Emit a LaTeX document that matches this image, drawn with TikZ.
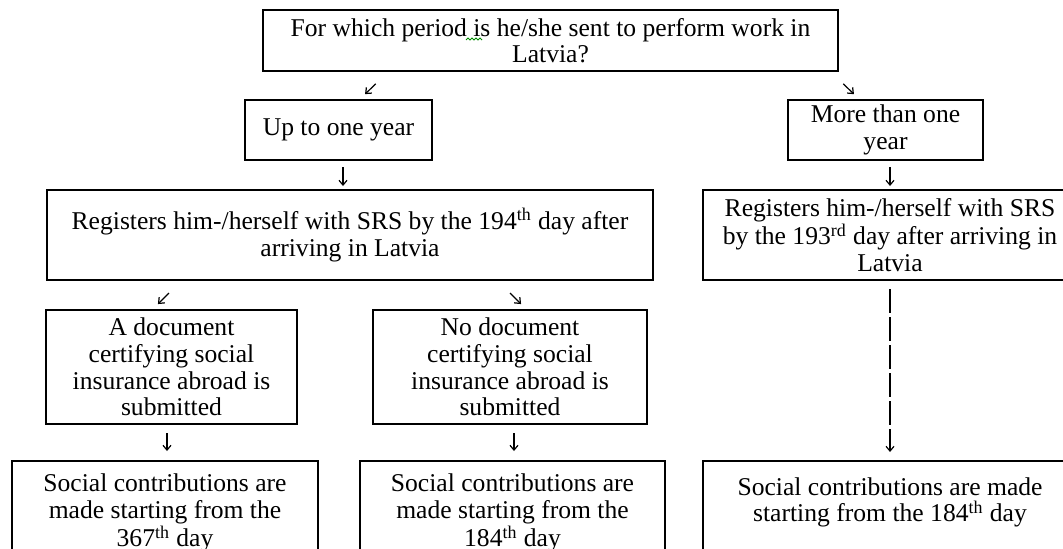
\documentclass[tikz,border=0pt]{standalone}
\usepackage{fontspec}
\setmainfont{Liberation Serif}
\usetikzlibrary{arrows.meta}
\begin{document}
\begin{tikzpicture}[x=0.5pt,y=-0.5pt,
  box/.style={draw=black, line width=0.7pt, inner sep=0pt, outer sep=0pt, align=center,
    font=\fontsize{12.8}{13.3}\selectfont},
  arr/.style={line width=0.6pt, -{Straight Barb[length=2.4pt,width=4pt]}},
  dasharr/.style={arr, dash pattern=on 12pt off 2pt},
]
\useasboundingbox (0,0) rectangle (1063,548);
\clip (0,0) rectangle (1063,548);

% boxes (centres in pixels)
\node[box, minimum width=287.5pt, minimum height=30.5pt] (top) at (550.5,40.5)
  {For which period is he/she sent to perform work in\\Latvia?};
\node[box, minimum width=93.5pt, minimum height=30pt] (up) at (338.5,130) {\raisebox{-2pt}{Up to one year}};
\node[box, minimum width=97.5pt, minimum height=30pt] (more) at (885.5,130) {More than one\\year};
\node[box, minimum width=303pt, minimum height=45pt] (lreg) at (350,235)
  {Registers him-/herself with SRS by the 194\textsuperscript{th} day after\\arriving in Latvia};
\node[box, minimum width=187pt, minimum height=45pt] (rreg) at (890,235)
  {Registers him-/herself with SRS\\by the 193\textsuperscript{rd} day after arriving in\\Latvia};
\node[box, minimum width=125.5pt, minimum height=57pt] (adoc) at (171.5,367)
  {A document\\certifying social\\insurance abroad is\\submitted};
\node[box, minimum width=137pt, minimum height=57pt] (nodoc) at (510,367)
  {No document\\certifying social\\insurance abroad is\\submitted};
\node[box, minimum width=153pt, minimum height=52pt] (lsoc) at (165,513)
  {Social contributions are\\made starting from the\\367\textsuperscript{th} day};
\node[box, minimum width=152.5pt, minimum height=52pt] (msoc) at (512.5,513)
  {Social contributions are\\made starting from the\\184\textsuperscript{th} day};
\node[box, minimum width=187pt, minimum height=52pt] (rsoc) at (890,513)
  {Social contributions are made\\starting from the 184\textsuperscript{th} day\\\mbox{}};

% spell-check squiggle under "is"
\draw[green!55!black, line width=0.4pt] (466,40) -- (468,38) -- (470,40) -- (472,38) -- (474,40)
  -- (476,38) -- (478,40) -- (480,38) -- (482,40);

% connectors
\draw[arr, shorten <=9.2pt, shorten >=4.2pt] (top.south -| 389,0) -- (up.north -| 359,0);
\draw[arr, shorten <=9.2pt, shorten >=4.2pt] (top.south -| 830,0) -- (more.north -| 860,0);
\draw[arr, shorten <=3.5pt, shorten >=2pt] (up.south -| 343,0) -- (lreg.north -| 343,0);
\draw[arr, shorten <=3.5pt, shorten >=2pt] (more.south -| 890,0) -- (rreg.north -| 890,0);
\draw[arr, shorten <=9.2pt, shorten >=4.2pt] (lreg.south -| 182,0) -- (adoc.north -| 152,0);
\draw[arr, shorten <=9.2pt, shorten >=4.2pt] (lreg.south -| 497,0) -- (nodoc.north -| 527,0);
\draw[arr, shorten <=4.5pt, shorten >=5pt] (adoc.south -| 167,0) -- (lsoc.north -| 167,0);
\draw[arr, shorten <=4.5pt, shorten >=5pt] (nodoc.south -| 514,0) -- (msoc.north -| 514,0);
\draw[dasharr, shorten <=4.5pt, shorten >=4.5pt] (rreg.south -| 890,0) -- (rsoc.north -| 890,0);
\end{tikzpicture}
\end{document}
